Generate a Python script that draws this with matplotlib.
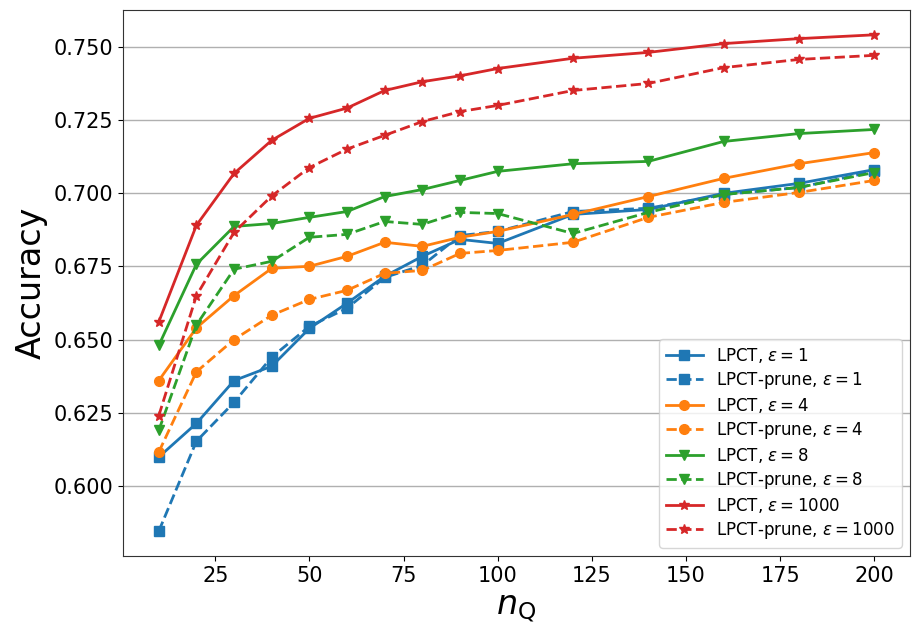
import matplotlib
matplotlib.use("Agg")
import matplotlib.pyplot as plt

x = [10, 20, 30, 40, 50, 60, 70, 80, 90, 100, 120, 140, 160, 180, 200]

lpct_1 = [0.6099, 0.6214, 0.6360, 0.6409, 0.6538, 0.6624, 0.6716, 0.6784, 0.6842, 0.6828, 0.6927, 0.6944, 0.6999, 0.7033, 0.7080]
prune_1 = [0.5846, 0.6153, 0.6286, 0.6440, 0.6545, 0.6607, 0.6712, 0.6753, 0.6855, 0.6869, 0.6937, 0.6948, 0.6995, 0.7019, 0.7074]
lpct_4 = [0.6360, 0.6540, 0.6650, 0.6743, 0.6750, 0.6784, 0.6832, 0.6818, 0.6849, 0.6869, 0.6927, 0.6988, 0.7050, 0.7100, 0.7138]
prune_4 = [0.6116, 0.6390, 0.6500, 0.6583, 0.6637, 0.6668, 0.6726, 0.6736, 0.6794, 0.6804, 0.6832, 0.6917, 0.6968, 0.7002, 0.7043]
lpct_8 = [0.6480, 0.6757, 0.6886, 0.6896, 0.6917, 0.6937, 0.6988, 0.7012, 0.7043, 0.7074, 0.7100, 0.7108, 0.7176, 0.7203, 0.7217]
prune_8 = [0.6190, 0.6550, 0.6740, 0.6767, 0.6849, 0.6859, 0.6903, 0.6893, 0.6934, 0.6930, 0.6862, 0.6934, 0.6995, 0.7019, 0.7070]
lpct_1000 = [0.6560, 0.6890, 0.7067, 0.7180, 0.7255, 0.7290, 0.7350, 0.7380, 0.7400, 0.7425, 0.7460, 0.7480, 0.7510, 0.7527, 0.7540]
prune_1000 = [0.6240, 0.6650, 0.6866, 0.6990, 0.7087, 0.7150, 0.7197, 0.7244, 0.7278, 0.7299, 0.7350, 0.7374, 0.7428, 0.7456, 0.7470]

series = [
    (lpct_1, "LPCT, $\\epsilon=1$", "tab:blue", "s", "-"),
    (prune_1, "LPCT-prune, $\\epsilon=1$", "tab:blue", "s", "--"),
    (lpct_4, "LPCT, $\\epsilon=4$", "tab:orange", "o", "-"),
    (prune_4, "LPCT-prune, $\\epsilon=4$", "tab:orange", "o", "--"),
    (lpct_8, "LPCT, $\\epsilon=8$", "tab:green", "v", "-"),
    (prune_8, "LPCT-prune, $\\epsilon=8$", "tab:green", "v", "--"),
    (lpct_1000, "LPCT, $\\epsilon=1000$", "tab:red", "*", "-"),
    (prune_1000, "LPCT-prune, $\\epsilon=1000$", "tab:red", "*", "--"),
]

fig = plt.figure(figsize=(9.21, 6.38), dpi=100)
ax = fig.add_axes([123/921, 1-556/638, (910-123)/921, (556-10)/638])
for y, lab, c, m, ls in series:
    ax.plot(x, y, color=c, marker=m, linestyle=ls, linewidth=2, markersize=7, label=lab)

ax.grid(axis='y', color='#b0b0b0', linewidth=1)
ax.set_axisbelow(True)
ax.tick_params(labelsize=15)
ax.set_xlabel("$n_{\\rm Q}$", fontsize=24)
ax.set_ylabel("Accuracy", fontsize=24)
for s in ax.spines.values():
    s.set_color('#333333')
ax.legend(loc='lower right', fontsize=12, labelspacing=0.3, handlelength=2.2)
fig.savefig("out.png", dpi=100)
